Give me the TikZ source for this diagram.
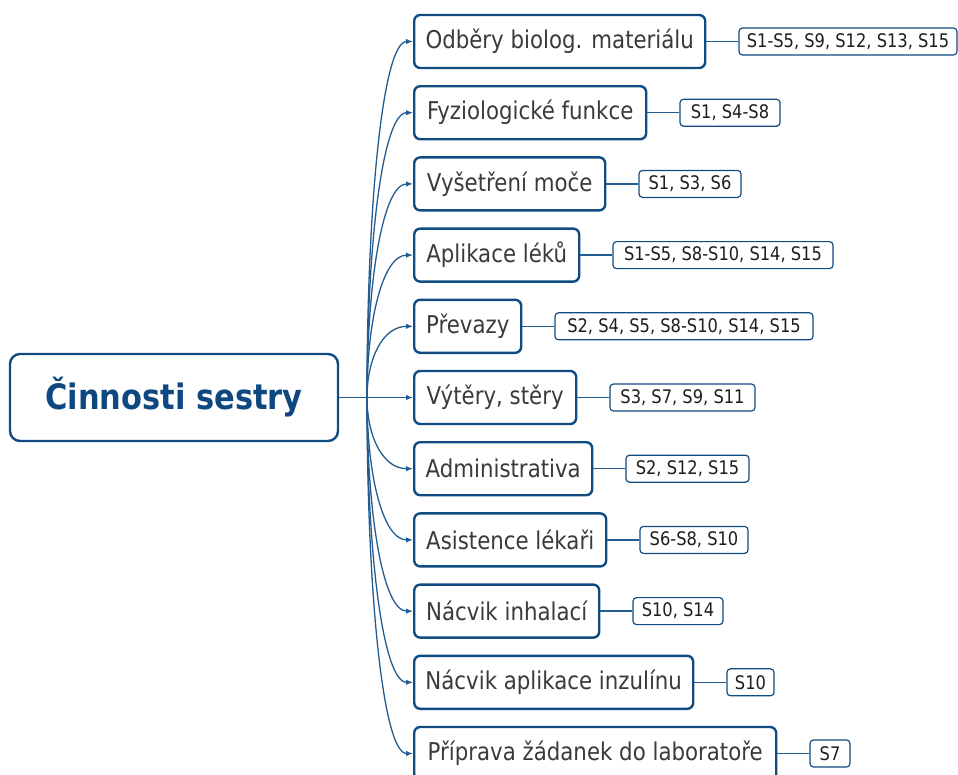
\documentclass[tikz,border=0pt]{standalone}
\usepackage{fontspec}
\setmainfont{DejaVu Sans}[FakeStretch=0.87]
\usetikzlibrary{arrows.meta,positioning,calc}

\definecolor{boxblue}{RGB}{16,76,130}
\definecolor{rootblue}{RGB}{14,72,128}
\definecolor{lineblue}{RGB}{34,92,145}
\definecolor{textgrey}{RGB}{58,58,58}
\definecolor{tagtext}{RGB}{30,30,30}

\tikzset{
  rootbox/.style={draw=boxblue, line width=2.4pt, rounded corners=10pt, fill=white,
    font=\fontsize{35}{40}\selectfont\bfseries, text=rootblue,
    minimum width=328pt, minimum height=87pt, inner sep=0pt},
  topicbox/.style={draw=boxblue, line width=2.4pt, rounded corners=6pt, fill=white,
    font=\fontsize{24.5}{28}\selectfont, text=textgrey,
    minimum height=53pt, inner sep=0pt, anchor=west},
  tagbox/.style={draw=boxblue, line width=1.2pt, rounded corners=3.5pt, fill=white,
    font=\fontsize{18.7}{23}\selectfont, text=tagtext,
    minimum height=27pt, inner sep=0pt, right=32pt of #1},
  conn/.style={draw=lineblue, line width=1.3pt},
  feed/.style={conn, -{Latex[length=7pt,width=5.5pt]}},
}

\begin{document}
\begin{tikzpicture}[x=1pt,y=-1pt]
\useasboundingbox (0,0) rectangle (958,774);

% central topic
\node[rootbox] (root) at (174,397.5) {Činnosti sestry};
\coordinate (hub) at (367,397.5);

% activities
\node[topicbox, minimum width=291pt] (c1)  at (413, 41.5) {Odběry biolog. materiálu};
\node[topicbox, minimum width=232pt] (c2)  at (413,112.7) {Fyziologické funkce};
\node[topicbox, minimum width=191pt] (c3)  at (413,183.9) {Vyšetření moče};
\node[topicbox, minimum width=165pt] (c4)  at (413,255.1) {Aplikace léků};
\node[topicbox, minimum width=107pt] (c5)  at (413,326.3) {Převazy};
\node[topicbox, minimum width=162pt] (c6)  at (413,397.5) {Výtěry, stěry};
\node[topicbox, minimum width=178pt] (c7)  at (413,468.7) {Administrativa};
\node[topicbox, minimum width=192pt] (c8)  at (413,539.9) {Asistence lékaři};
\node[topicbox, minimum width=185pt] (c9)  at (413,611.1) {Nácvik inhalací};
\node[topicbox, minimum width=279pt] (c10) at (413,682.3) {Nácvik aplikace inzulínu};
\node[topicbox, minimum width=362pt] (c11) at (413,753.5) {Příprava žádanek do laboratoře};

% sister tags
\node[tagbox=c1,  minimum width=218pt] (l1)  {S1-S5, S9, S12, S13, S15};
\node[tagbox=c2,  minimum width=100pt] (l2)  {S1, S4-S8};
\node[tagbox=c3,  minimum width=102pt] (l3)  {S1, S3, S6};
\node[tagbox=c4,  minimum width=220pt] (l4)  {S1-S5, S8-S10, S14, S15};
\node[tagbox=c5,  minimum width=258pt] (l5)  {S2, S4, S5, S8-S10, S14, S15};
\node[tagbox=c6,  minimum width=145pt] (l6)  {S3, S7, S9, S11};
\node[tagbox=c7,  minimum width=123pt] (l7)  {S2, S12, S15};
\node[tagbox=c8,  minimum width=108pt] (l8)  {S6-S8, S10};
\node[tagbox=c9,  minimum width=90pt]  (l9)  {S10, S14};
\node[tagbox=c10, minimum width=47pt]  (l10) {S10};
\node[tagbox=c11, minimum width=40pt]  (l11) {S7};

% branches from the central topic
\draw[conn] (root.east) -- (hub);
\draw[feed] (root.east) -- (c6.west);
\foreach \i in {1,2,3,4,5,7,8,9,10,11}{
  \path (hub |- c\i.west) coordinate (v\i);
  \draw[feed] (hub) .. controls ($(hub)!0.55!(v\i)$) and ([xshift=-30pt]c\i.west) .. (c\i.west);
}

% links to the tags
\foreach \i in {1,...,11}{
  \draw[conn] (c\i.east) -- (l\i.west);
}
\end{tikzpicture}
\end{document}
